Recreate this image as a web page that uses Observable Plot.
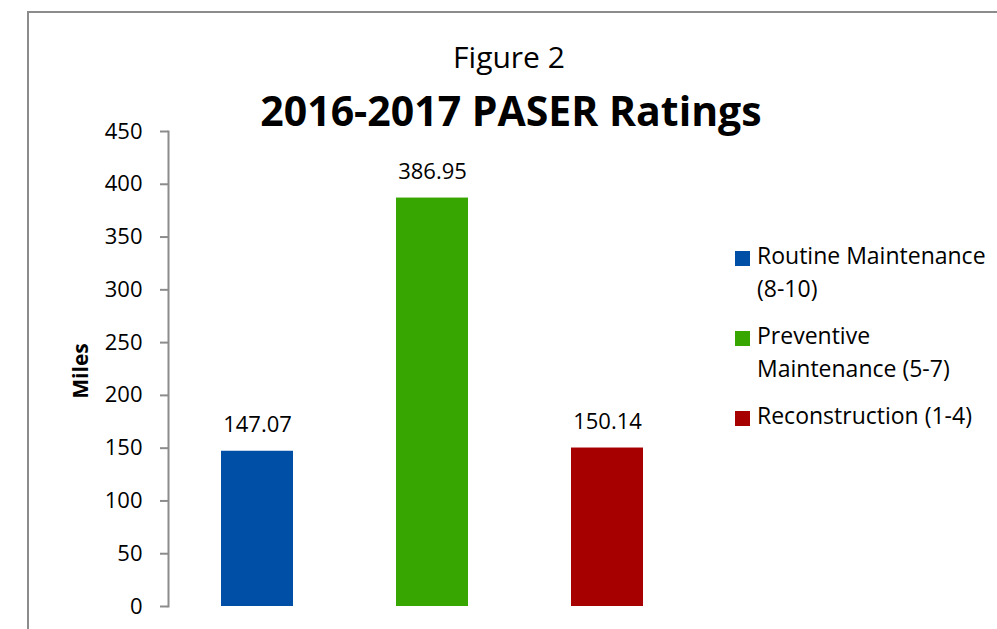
<!DOCTYPE html>
<html>
<head>
<meta charset="utf-8">
<script src="https://cdn.jsdelivr.net/npm/d3@7"></script>
<script src="https://cdn.jsdelivr.net/npm/@observablehq/plot@0.6"></script>
<style>
  html, body { margin: 0; padding: 0; background: #fff; overflow: hidden; }
  #wrap { position: relative; width: 997px; height: 629px; overflow: hidden; font-family: "Open Sans", sans-serif; color: #000; }
  #border { position: absolute; left: 27px; top: 11px; width: 1100px; height: 800px; border: 2px solid #8c8c8c; box-sizing: border-box; }
  #chart { position: absolute; left: 0; top: 0; }
  .t1 { position: absolute; left: 509px; top: 42px; transform: translateX(-50%); font-size: 30px; line-height: 30px; white-space: nowrap; }
  .t2 { position: absolute; left: 511px; top: 90px; transform: translateX(-50%); font-size: 41px; line-height: 41px; font-weight: bold; white-space: nowrap; }
  .ylab { position: absolute; left: 80px; top: 371px; transform: translate(-50%, -50%) rotate(-90deg); font-size: 21px; font-weight: bold; white-space: nowrap; }
  .leg { position: absolute; left: 735px; font-size: 23px; line-height: 33px; white-space: pre; }
  .leg .sw { position: absolute; left: 0; top: 11px; width: 15px; height: 15px; }
  .leg .lb { position: absolute; left: 22px; top: -1px; }
</style>
</head>
<body>
<div id="wrap">
  <div id="border"></div>
  <div id="chart"></div>
  <div class="t1">Figure 2</div>
  <div class="t2">2016-2017 PASER Ratings</div>
  <div class="ylab">Miles</div>
</div>
<script>
const categories = ["Routine Maintenance (8-10)", "Preventive Maintenance (5-7)", "Reconstruction (1-4)"];
const legendLines = ["Routine Maintenance\n(8-10)", "Preventive\nMaintenance (5-7)", "Reconstruction (1-4)"];
const miles = [147.07, 386.95, 150.14];
const colors = ["#004fa6", "#38a600", "#a60000"];
const yTicks = [0, 50, 100, 150, 200, 250, 300, 350, 400, 450];
const legendTops = [240, 320, 400];

const data = categories.map((c, i) => ({category: c, miles: miles[i]}));

const chart = Plot.plot({
  width: 997,
  height: 629,
  marginLeft: 168,
  marginRight: 301,
  marginTop: 131,
  marginBottom: 23,
  style: {fontFamily: "Open Sans, sans-serif", fontSize: "22px", color: "#000", background: "transparent"},
  x: {domain: categories, paddingInner: 0.59, paddingOuter: 0.3, axis: null},
  y: {domain: [0, 450], axis: null},
  color: {domain: categories, range: colors},
  marks: [
    Plot.barY(data, {x: "category", y: "miles", fill: "category"}),
    Plot.text(data, {x: "category", y: "miles", text: d => d.miles.toFixed(2), lineAnchor: "bottom", dy: -19, fill: "#000", fontSize: 22}),
    Plot.frame({anchor: "left", stroke: "#8c8c8c", strokeWidth: 2}),
    Plot.axisY({ticks: yTicks, tickSize: 8, tickPadding: 18, stroke: "#8c8c8c", strokeWidth: 2, fill: "#000", label: null, fontSize: 22})
  ]
});
document.getElementById("chart").appendChild(chart);

const wrap = document.getElementById("wrap");
legendLines.forEach((l, i) => {
  const d = document.createElement("div");
  d.className = "leg";
  d.style.top = legendTops[i] + "px";
  const sw = document.createElement("div");
  sw.className = "sw";
  sw.style.background = colors[i];
  const lb = document.createElement("div");
  lb.className = "lb";
  lb.textContent = l;
  d.appendChild(sw);
  d.appendChild(lb);
  wrap.appendChild(d);
});
</script>
</body>
</html>
